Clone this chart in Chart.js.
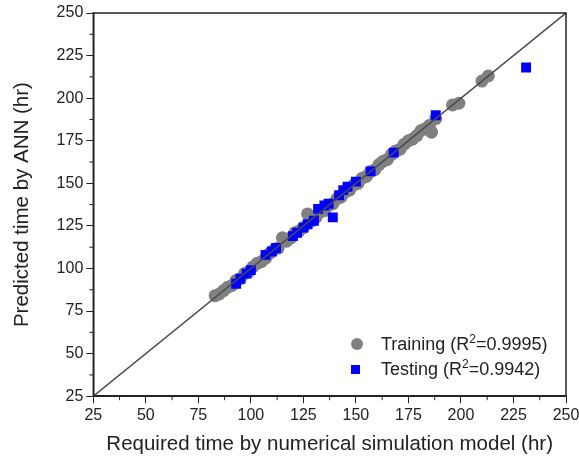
<!DOCTYPE html>
<html lang="en">
  <head>
    <meta charset="UTF-8" />
    <title>ANN vs simulation</title>
    <style>
      body { margin: 0; background: #fff; }
      #wrap { position: relative; width: 579px; height: 459px; }
      #legend {
        position: absolute; left: 351px; top: 332px;
        font: 18px "Liberation Sans", Arial, sans-serif; color: #222;
        line-height: 25px;
      }
      #legend .mk { display: inline-block; vertical-align: middle; margin-right: 18px; position: relative; top: -1px; }
      #legend .c { width: 12px; height: 12px; border-radius: 50%; background: #808080; }
      #legend .s { width: 9px; height: 9px; background: #0000ff; margin-left: 0px; margin-right: 21px; }
      #legend sup { font-size: 12px; line-height: 0; }
    </style>
  </head>
  <body>
    <div id="wrap">
      <canvas id="chart" width="579" height="459"></canvas>
      <div id="legend">
        <div><span class="mk c"></span>Training (R<sup>2</sup>=0.9995)</div>
        <div><span class="mk s"></span>Testing (R<sup>2</sup>=0.9942)</div>
      </div>
    </div>
    <script src="https://cdn.jsdelivr.net/npm/chart.js"></script>
    <script>
      // training points (gray circles)
      const trainX = [83, 85, 87, 89, 91, 93, 95, 97, 99, 101, 103, 105, 107, 109, 111, 113, 115, 117, 119, 121,
        123, 125, 127, 129, 131, 133, 135, 137, 139, 141, 143, 145, 147, 149, 151, 153, 155, 157, 159, 161,
        163, 165, 167, 169, 171, 173, 175, 177, 179, 181, 183, 185, 186, 188, 196, 199, 210, 213];
      const trainY = [84, 85, 87, 89, 90, 93, 94, 97, 98, 101, 103, 104, 106, 109, 111, 112, 118, 116, 118, 121,
        122, 124, 132, 128, 130, 133, 134, 137, 138, 141, 142, 145, 146, 149, 150, 153, 154, 157, 158, 161,
        163, 164, 167, 169, 170, 173, 175, 176, 178, 181, 182, 184, 180, 188, 196, 197, 210, 213];
      // testing points (blue squares)
      const testX = [93, 95, 98, 100, 107, 110, 112, 120, 122, 125, 127, 130, 132, 135, 137, 139, 142, 144, 146,
        150, 157, 168, 188, 231];
      const testY = [91, 94, 97, 99, 108, 110, 112, 119, 121, 124, 126, 128, 135, 137, 138, 130, 143, 146, 148,
        151, 157, 168, 190, 218];
      // axis range
      const axisMin = 25, axisMax = 250, majorStep = 25, minorStep = 12.5;

      const pts = (xs, ys) => xs.map((x, i) => ({ x: x, y: ys[i] }));
      const font = { family: '"Liberation Sans", Arial, sans-serif', size: 16 };
      const titleFont = { family: '"Liberation Sans", Arial, sans-serif', size: 20.5 };

      // frame around plot + minor ticks
      const frame = {
        id: "frame",
        afterDraw(chart) {
          const { ctx, chartArea: a, scales } = chart;
          ctx.save();
          ctx.strokeStyle = "#222";
          ctx.lineWidth = 1.5;
          ctx.strokeRect(a.left, a.top, a.right - a.left, a.bottom - a.top);
          ctx.lineWidth = 1;
          ctx.beginPath();
          for (let v = axisMin + minorStep; v < axisMax; v += majorStep) {
            const px = scales.x.getPixelForValue(v);
            ctx.moveTo(px, a.bottom); ctx.lineTo(px, a.bottom + 4);
            const py = scales.y.getPixelForValue(v);
            ctx.moveTo(a.left, py); ctx.lineTo(a.left - 4, py);
          }
          ctx.stroke();
          ctx.restore();
        },
      };

      const axis = (title, titlePad) => ({
        type: "linear",
        min: axisMin,
        max: axisMax,
        ticks: { stepSize: majorStep, color: "#222", font: font, padding: 3 },
        grid: { drawOnChartArea: false, tickLength: 7, color: "#222", tickColor: "#222" },
        border: { color: "#222", width: 1.5 },
        title: { display: true, text: title, color: "#222", font: titleFont, padding: titlePad },
      });

      const xAxis = axis("Required time by numerical simulation model (hr)", { top: 4, bottom: 2 });
      // let the last tick label sit at the canvas edge like the original
      xAxis.afterFit = (s) => { s.paddingRight = 13; };

      new Chart(document.getElementById("chart"), {
        type: "scatter",
        data: {
          datasets: [
            {
              label: "y = x",
              data: [{ x: axisMin, y: axisMin }, { x: axisMax, y: axisMax }],
              showLine: true,
              borderColor: "#4a4a4a",
              borderWidth: 1.5,
              pointRadius: 0,
              order: 0,
            },
            {
              label: "Testing (R²=0.9942)",
              data: pts(testX, testY),
              pointStyle: "rect",
              pointRadius: 7,
              backgroundColor: "#0000ff",
              borderWidth: 0,
              order: 1,
            },
            {
              label: "Training (R²=0.9995)",
              data: pts(trainX, trainY),
              pointRadius: 6.5,
              backgroundColor: "#808080",
              borderWidth: 0,
              order: 2,
            },
          ],
        },
        options: {
          responsive: false,
          animation: false,
          layout: { padding: { top: 13, right: 0, left: 8, bottom: 0 } },
          plugins: { legend: { display: false }, tooltip: { enabled: false } },
          scales: {
            x: xAxis,
            y: axis("Predicted time by ANN (hr)", { top: 2, bottom: 19 }),
          },
        },
        plugins: [frame],
      });
    </script>
  </body>
</html>
